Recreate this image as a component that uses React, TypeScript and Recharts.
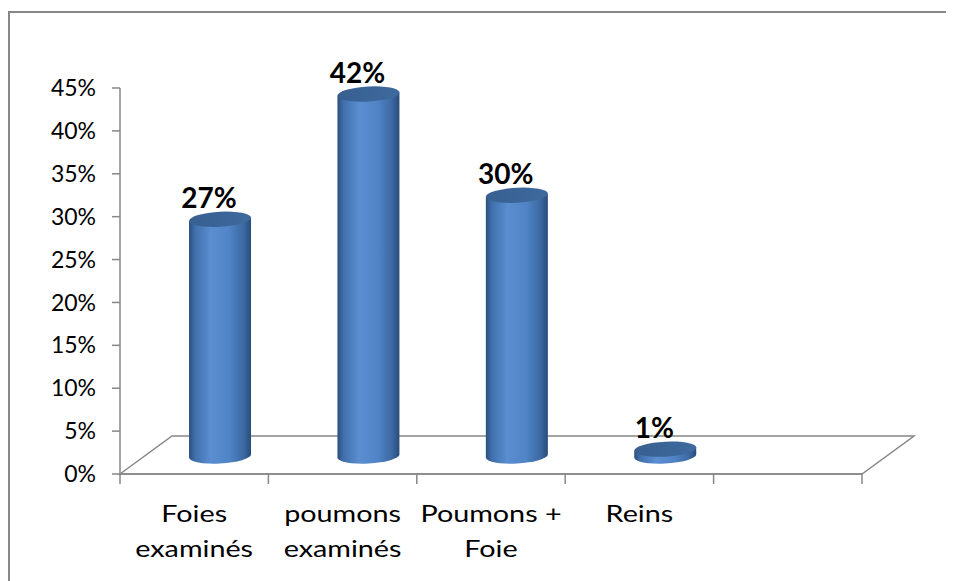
import React from 'react';
import { BarChart, Bar, XAxis, YAxis, ReferenceArea, LabelList } from 'recharts';

const categories = ['Foies examinés', 'poumons examinés', 'Poumons + Foie', 'Reins', ''];
const values = [0.276, 0.422, 0.304, 0.008, null];
const valueLabels = ['27%', '42%', '30%', '1%', ''];
const yTicks = [0, 0.05, 0.1, 0.15, 0.2, 0.25, 0.3, 0.35, 0.4, 0.45];

const data = categories.map((c, i) => ({ name: c, value: values[i], label: valueLabels[i] }));

const FONT = "Lato, 'Open Sans', sans-serif";
const GRID = '#878787';
const DEPTH_DX = 52;
const BAR_DX = 26;
const BAR_DY = 18;
const RY = 7.5;
const TICK = 10;

const wrap = (s: string): string[] => {
  const i = s.lastIndexOf(' ');
  if (i < 0) return [s];
  return [s.slice(0, i), s.slice(i + 1)];
};

const Floor = (props: any) => {
  const { x, y, width, height } = props;
  if (x == null || y == null) return null;
  const fy = y + height;
  const by = y;
  const pts = `${x},${fy} ${x + DEPTH_DX},${by} ${x + width + DEPTH_DX},${by} ${x + width},${fy}`;
  return <polygon points={pts} fill="none" stroke={GRID} strokeWidth={1.5} />;
};

const Cylinder = (props: any) => {
  const { x, y, width, height } = props;
  if (x == null || y == null || !width || height == null || isNaN(y)) return null;
  const cx = x + width / 2 + BAR_DX;
  const rx = width / 2;
  const top = y - BAR_DY;
  const base = y + height - BAR_DY;
  const left = cx - rx;
  const right = cx + rx;
  const body = `M${left},${top} L${left},${base} A${rx},${RY} 0 0 0 ${right},${base} L${right},${top} Z`;
  const t = `translate(${cx},${base}) skewY(-3) translate(${-cx},${-base})`;
  return (
    <g transform={t}>
      <path d={body} fill="url(#cylBody)" />
      <ellipse cx={cx} cy={top} rx={rx} ry={RY} fill="url(#cylTop)" />
    </g>
  );
};

const ValueLabel = (props: any) => {
  const { x, y, width, index } = props;
  const lbl = valueLabels[index];
  if (!lbl || x == null) return null;
  const cx = x + width / 2 + BAR_DX - 11;
  return (
    <text x={cx} y={y - BAR_DY - RY - 4} textAnchor="middle" fontFamily={FONT} fontWeight={700} fontSize={28} fill="#000">
      {lbl}
    </text>
  );
};

const XTick = (props: any) => {
  const { x, y, payload, index } = props;
  const half = payload && payload.offset ? payload.offset : 74.2;
  const lines = wrap(String(payload.value || ''));
  return (
    <g>
      <line x1={x - half} x2={x - half} y1={y - TICK} y2={y} stroke={GRID} strokeWidth={1.5} />
      {index === categories.length - 1 && (
        <line x1={x + half} x2={x + half} y1={y - TICK} y2={y} stroke={GRID} strokeWidth={1.5} />
      )}
      {payload.value
        ? lines.map((l, i) => (
            <text
              key={i}
              transform={`translate(${x},${y + 38 + i * 35}) scale(1.25,1)`}
              textAnchor="middle"
              fontFamily={FONT}
              fontSize={23}
              fill="#000"
            >
              {l}
            </text>
          ))
        : null}
    </g>
  );
};

export default function App() {
  return (
    <div style={{ position: 'relative', width: 946, height: 573 }}>
      <svg width={0} height={0} style={{ position: 'absolute' }}>
        <defs>
          <linearGradient id="cylBody" x1="0" y1="0" x2="1" y2="0">
            <stop offset="0%" stopColor="#2A4F7F" />
            <stop offset="10%" stopColor="#4170AD" />
            <stop offset="35%" stopColor="#5A8ED0" />
            <stop offset="65%" stopColor="#5084C6" />
            <stop offset="88%" stopColor="#3B69A2" />
            <stop offset="100%" stopColor="#294C7A" />
          </linearGradient>
          <linearGradient id="cylTop" x1="0" y1="0" x2="1" y2="0">
            <stop offset="0%" stopColor="#385F90" />
            <stop offset="100%" stopColor="#3E6A9E" />
          </linearGradient>
        </defs>
      </svg>
      <div style={{ position: 'absolute', left: 0, top: 3, width: 946, height: 1.5, background: GRID }} />
      <div style={{ position: 'absolute', left: 0, top: 3, width: 2, height: 570, background: GRID }} />
      <BarChart
        width={946}
        height={573}
        data={data}
        margin={{ top: 80, right: 92, bottom: 0, left: 0 }}
        barCategoryGap="29%"
      >
        <ReferenceArea y1={0} y2={0.0443} shape={<Floor />} ifOverflow="visible" />
        <XAxis
          dataKey="name"
          height={107}
          tickLine={false}
          tickSize={TICK}
          tickMargin={0}
          axisLine={{ stroke: GRID, strokeWidth: 1.5 }}
          tick={<XTick />}
          interval={0}
        />
        <YAxis
          width={112}
          domain={[0, 0.45]}
          ticks={yTicks}
          tickFormatter={(v: number) => `${Math.round(v * 100)}%`}
          tickSize={8}
          tickMargin={16}
          axisLine={{ stroke: GRID, strokeWidth: 1.5 }}
          tickLine={{ stroke: GRID, strokeWidth: 1.5 }}
          tick={{ fontFamily: FONT, fontSize: 23, fill: '#000' }}
        />
        <Bar dataKey="value" isAnimationActive={false} shape={<Cylinder />}>
          <LabelList dataKey="value" content={<ValueLabel />} />
        </Bar>
      </BarChart>
    </div>
  );
}
